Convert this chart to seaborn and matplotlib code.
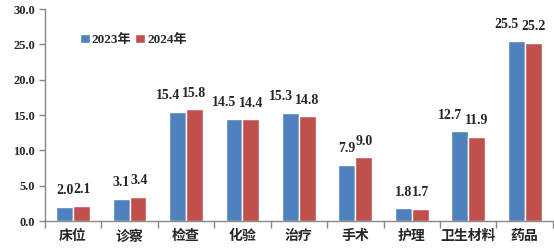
import matplotlib
matplotlib.use("Agg")
import matplotlib.pyplot as plt
import seaborn as sns
import pandas as pd

categories = ["床位", "诊察", "检查", "化验", "治疗", "手术", "护理", "卫生材料", "药品"]
values_2023 = [2.0, 3.1, 15.4, 14.5, 15.3, 7.9, 1.8, 12.7, 25.5]
values_2024 = [2.1, 3.4, 15.8, 14.4, 14.8, 9.0, 1.7, 11.9, 25.2]
series = ["2023年", "2024年"]
yticks = [0, 5, 10, 15, 20, 25, 30]

sns.set_theme(style="white")
plt.rcParams['font.family'] = ['Liberation Serif', 'Noto Sans CJK SC', 'DejaVu Sans']

df = pd.DataFrame({
    "cat": categories * 2,
    "val": values_2023 + values_2024,
    "year": [series[0]] * len(categories) + [series[1]] * len(categories),
})

fig = plt.figure(figsize=(5.54, 2.5), dpi=100)
ax = fig.add_axes([0.081, 0.116, 0.917, 0.848])
sns.barplot(data=df, x="cat", y="val", hue="year", order=categories, hue_order=series,
            palette=["#4F81BD", "#C0504D"], width=0.6, saturation=1, ax=ax, legend=True)

ax.set_ylim(0, 30)
ax.set_xlim(-0.5, len(categories) - 0.5)
ax.set_yticks(yticks)
ax.set_yticklabels([f"{t:.1f}" for t in yticks], fontsize=9, fontweight="bold",
                   family=['Liberation Serif'])
ax.set_xticks(range(len(categories)))
ax.set_xticklabels(categories, fontsize=10, fontweight="bold", family=['Noto Sans CJK SC'])
ax.tick_params(axis="x", length=0, pad=6)
ax.tick_params(axis="y", length=4, width=1, color="#888888", direction="out", left=True, pad=3)
ax.set_xticks([i + 0.5 for i in range(-1, len(categories))], minor=True)
ax.tick_params(axis="x", which="minor", length=5, width=1, color="#888888", direction="out", bottom=True)

for s in ["top", "right"]:
    ax.spines[s].set_visible(False)
for s in ["left", "bottom"]:
    ax.spines[s].set_color("#888888")
    ax.spines[s].set_linewidth(1)
ax.set_xlabel("")
ax.set_ylabel("")

# data labels; wide labels are nudged apart like the reference
for k, cont in enumerate(ax.containers):
    for rect in cont:
        h = rect.get_height()
        txt = f"{h:.1f}"
        dx = 0
        if len(txt) >= 4:
            dx = -7 if k == 0 else 0
        elif k == 1:
            dx = 0.5
        ax.annotate(txt, (rect.get_x() + rect.get_width() / 2, h), xytext=(dx, 7),
                    textcoords="offset points", ha="center", va="bottom",
                    fontsize=10, fontweight="bold", family=['Liberation Serif'])

ax.legend(loc="upper left", bbox_to_anchor=(0.045, 0.94), ncol=2, frameon=False,
          handlelength=0.75, handleheight=0.75, handletextpad=0.15, columnspacing=0.3,
          prop={"weight": "bold", "size": 9.5, "family": ['Liberation Serif', 'Noto Sans CJK SC']})

fig.savefig("out.png", dpi=100)
